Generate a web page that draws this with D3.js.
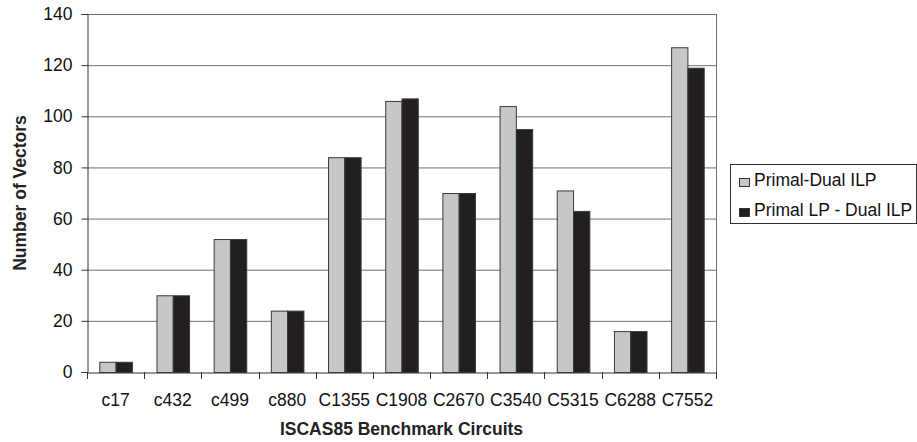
<!DOCTYPE html>
<html><head><meta charset="utf-8">
<script src="https://cdn.jsdelivr.net/npm/d3@7"></script>
<style>body{margin:0;background:#fff}svg{display:block;font-family:"Liberation Sans",Arial,sans-serif}</style>
</head><body><svg id="c" width="917" height="442"></svg>
<script>
const categories = ["c17","c432","c499","c880","C1355","C1908","C2670","C3540","C5315","C6288","C7552"];
const primalDual = [4,30,52,24,84,106,70,104,71,16,127];
const primalLP = [4,30,52,24,84,107,70,95,63,16,119];
const seriesNames = ["Primal-Dual ILP","Primal LP - Dual ILP"];
const yTicks = [0,20,40,60,80,100,120,140];

const FS = 17.5;
const svg = d3.select("#c");
const L=87,R=716,T=14,B=372;
const x = d3.scaleBand().domain(categories).range([L,R]).paddingInner(0).paddingOuter(0);
const y = d3.scaleLinear().domain([0,140]).range([B,T]);
const colors = ["#c6c7c9","#231f20"];
const bw = x.bandwidth();
const barW = bw*0.285;
const x1 = d3.scaleBand().domain([0,1]).range([(bw-2*barW)/2,(bw+2*barW)/2]);

// gridlines
svg.append("g").selectAll("line").data(yTicks.filter(d=>d>0)).join("line")
  .attr("x1",L).attr("x2",R).attr("y1",d=>y(d)+0.5).attr("y2",d=>y(d)+0.5)
  .attr("stroke","#707070").attr("stroke-width",1);
// right border
svg.append("line").attr("x1",R+0.5).attr("x2",R+0.5).attr("y1",T).attr("y2",B).attr("stroke","#707070");

const series=[primalDual,primalLP];
series.forEach((vals,si)=>{
  svg.append("g").selectAll("rect").data(vals).join("rect")
    .attr("x",(d,i)=>x(categories[i])+x1(si)+0.5)
    .attr("y",d=>y(d)+0.5)
    .attr("width",x1.bandwidth())
    .attr("height",d=>B-y(d))
    .attr("fill",colors[si]).attr("stroke","#3a3a3a").attr("stroke-width",1);
});

// y axis
const ya = svg.append("g").attr("transform",`translate(${L+0.5},0)`)
  .call(d3.axisLeft(y).tickValues(yTicks).tickSize(6).tickPadding(9));
ya.select(".domain").attr("stroke","#333");
ya.selectAll(".tick line").attr("stroke","#333");
ya.selectAll("text").attr("font-size",FS).attr("fill","#111").style("font-family","'Liberation Sans',Arial,sans-serif");
// x axis
const xa = svg.append("g").attr("transform",`translate(0,${B+0.5})`)
  .call(d3.axisBottom(x).tickSize(0).tickPadding(21.5));
xa.select(".domain").attr("stroke","#333");
xa.selectAll(".tick line").remove();
xa.selectAll("text").attr("font-size",FS).attr("fill","#111").style("font-family","'Liberation Sans',Arial,sans-serif");
const bounds = categories.map(c=>x(c)).concat([R]);
svg.append("g").selectAll("line").data(bounds).join("line")
  .attr("x1",d=>Math.round(d)+0.5).attr("x2",d=>Math.round(d)+0.5)
  .attr("y1",B).attr("y2",B+7).attr("stroke","#333");

// titles
svg.append("text").attr("x",401.5).attr("y",435).attr("text-anchor","middle")
  .attr("font-size",FS).attr("font-weight","bold").attr("fill","#222").text("ISCAS85 Benchmark Circuits");
svg.append("text").attr("transform",`translate(26,${(T+B)/2}) rotate(-90)`).attr("text-anchor","middle")
  .attr("font-size",FS).attr("font-weight","bold").attr("fill","#222").text("Number of Vectors");

// legend
const lg = svg.append("g");
lg.append("rect").attr("x",730.5).attr("y",164.5).attr("width",186).attr("height",59)
  .attr("fill","#fff").attr("stroke","#333");
seriesNames.forEach((n,i)=>{
  const base = 186 + i*30;
  lg.append("rect").attr("x",739.5).attr("y",base-7.5).attr("width",10).attr("height",8)
    .attr("fill",colors[i]).attr("stroke","#333");
  lg.append("text").attr("x",754).attr("y",base).attr("font-size",FS).attr("fill","#111").text(n);
});
</script></body></html>
